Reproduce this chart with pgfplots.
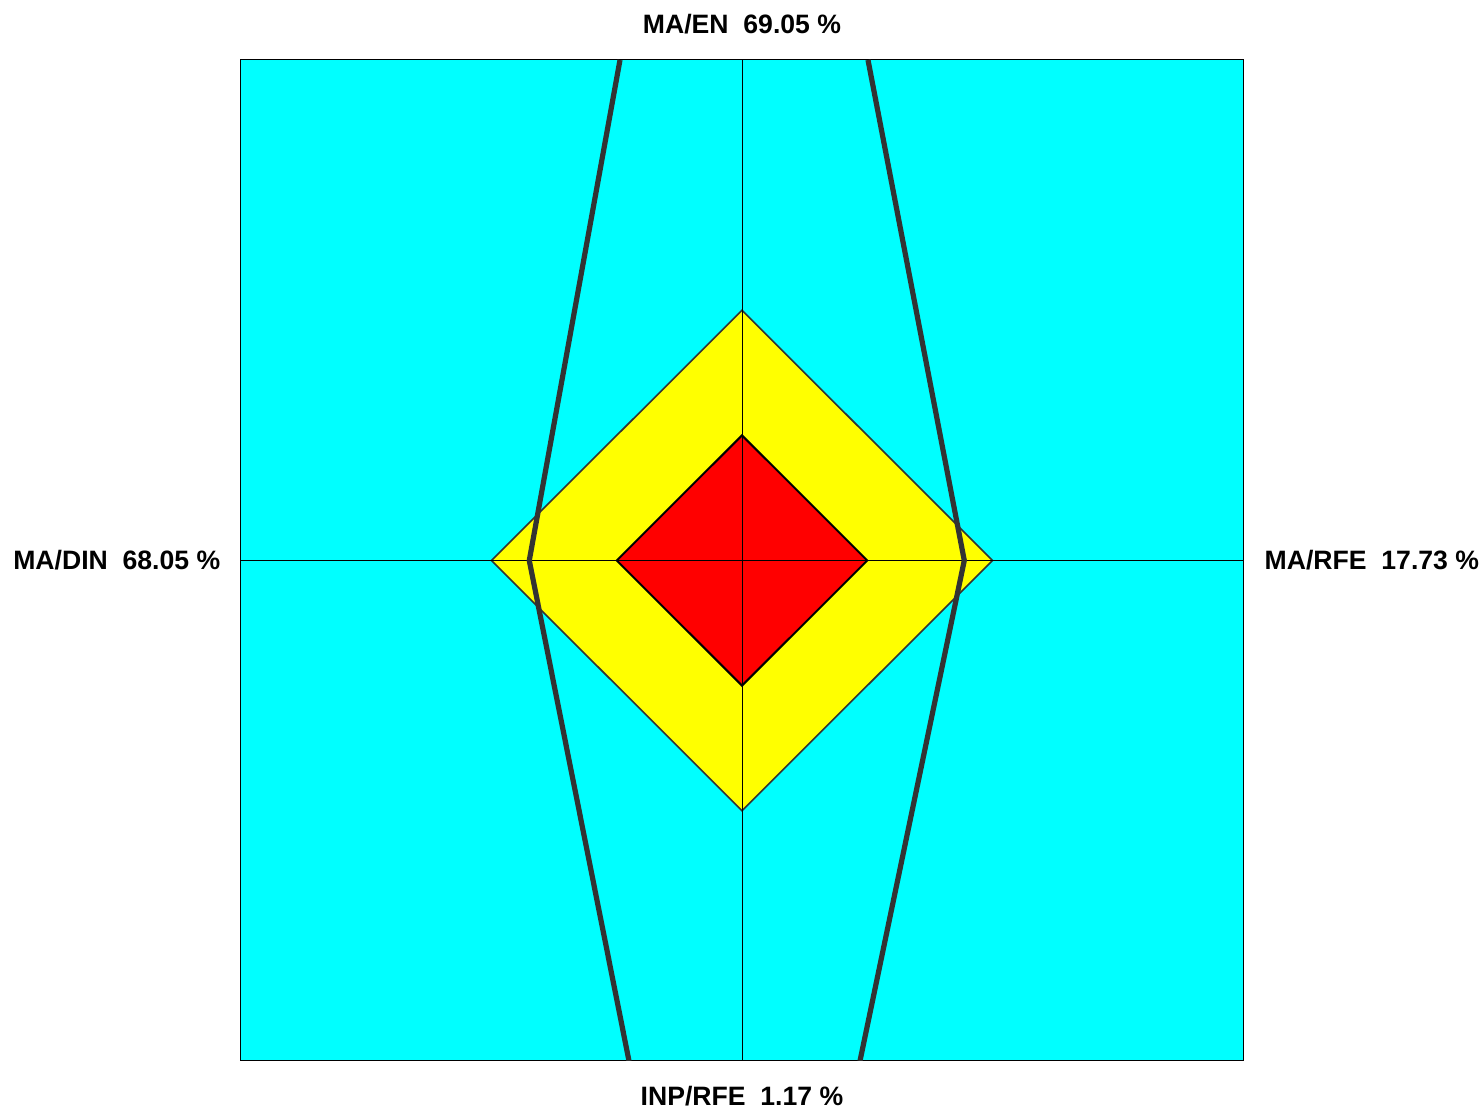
\documentclass[border=0pt]{standalone}
\usepackage{pgfplots}
\pgfplotsset{compat=1.18}
\usepackage{fontspec}
\setmainfont{Liberation Sans}
\definecolor{bgcyan}{HTML}{00FFFF}
\definecolor{dyellow}{HTML}{FFFF00}
\definecolor{dred}{HTML}{FF0000}
\definecolor{dline}{HTML}{333333}
\begin{document}
\begin{tikzpicture}
\begin{axis}[
  at={(0,0)}, anchor=south west,
  width=501pt, height=500.5pt, scale only axis,
  xmin=-100, xmax=100, ymin=-100, ymax=100,
  xtick=\empty, ytick=\empty,
  axis line style={black, line width=0.5pt},
  axis background/.style={fill=bgcyan},
  clip=true,
]
\addplot[fill=dyellow, draw=dline, line width=0.8pt] coordinates {(0,50) (50,0) (0,-50) (-50,0)} -- cycle;
\addplot[fill=dred, draw=black, line width=1pt] coordinates {(0,25) (25,0) (0,-25) (-25,0)} -- cycle;
\addplot[black, line width=0.5pt] coordinates {(-100,0) (100,0)};
\addplot[black, line width=0.5pt] coordinates {(0,-100) (0,100)};
\addplot[dline, line width=2.6pt] coordinates {(-24.35,100) (-42.46,0) (-22.55,-100)};
\addplot[dline, line width=2.6pt] coordinates {(25.15,100) (44.37,0) (23.55,-100)};
\end{axis}
\begin{scope}[every node/.style={inner sep=0pt, font=\fontsize{13.3pt}{16pt}\selectfont\bfseries}]
\node[anchor=base] at (250.5pt,513.9pt) {MA/EN\ \ 69.05 \%};
\node[anchor=base] at (250.5pt,-22.5pt) {INP/RFE\ \ 1.17 \%};
\node[anchor=base east] at (-10.15pt,245.85pt) {MA/DIN\ \ 68.05 \%};
\node[anchor=base west] at (511.65pt,245.85pt) {MA/RFE\ \ 17.73 \%};
\end{scope}
\pgfresetboundingbox
\path (-120.5pt,-25.5pt) rectangle (621.5pt,530.5pt);
\end{tikzpicture}
\end{document}
